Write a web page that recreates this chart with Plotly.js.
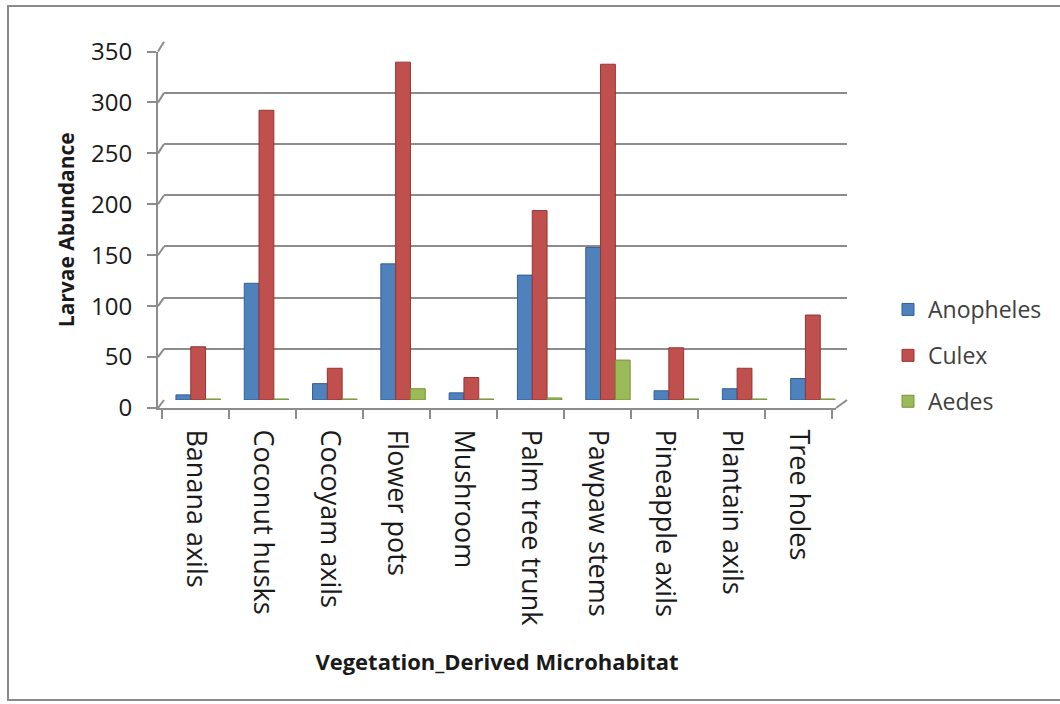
<!DOCTYPE html>
<html>
<head>
<meta charset="utf-8">
<script src="https://cdn.plot.ly/plotly-3.0.1.min.js"></script>
<style>html,body{margin:0;padding:0;background:#fff;}#chart{width:1060px;height:704px;}</style>
</head>
<body>
<div id="chart"></div>
<script>
const categories = ["Banana axils","Coconut husks","Cocoyam axils","Flower pots","Mushroom","Palm tree trunk","Pawpaw stems","Pineapple axils","Plantain axils","Tree holes"];
const anopheles = [5, 114, 16, 133, 7, 122, 149, 9, 11, 21];
const culex = [52, 283, 31, 330, 22, 185, 328, 51, 31, 83];
const aedes = [1, 1, 1, 11, 1, 2, 39, 1, 1, 1];
const seriesNames = ["Anopheles","Culex","Aedes"];
const yTicks = [0, 50, 100, 150, 200, 250, 300, 350];

const W = 1060, H = 704;
const fx = p => p / W;            // pixel -> paper x (margins are zero)
const fy = p => (H - p) / H;      // pixel -> paper y
const YMAX = 350;

// back wall (bars + gridlines) and front frame (axis lines, ticks, labels)
const back = {x0: 164, x1: 847, yTop: 41.7, yBot: 400};
const front = {x0: 158, x1: 836, yTop: 51.5, yBot: 408};

const colors = ["#4f81bd", "#c0504d", "#9bbb59"];
const lines = ["#30609c", "#963431", "#76923c"];
const data = [anopheles, culex, aedes].map((vals, i) => ({
  type: "bar",
  name: seriesNames[i],
  x: categories,
  y: vals,
  xaxis: "x", yaxis: "y",
  legendgroup: "g" + i,
  marker: {color: colors[i], line: {color: lines[i], width: 1}}
}));
// invisible helper so the front category axis has its categories
data.push({
  type: "scatter", mode: "markers", x: categories, y: anopheles,
  xaxis: "x2", yaxis: "y2", marker: {opacity: 0}, showlegend: false, hoverinfo: "skip"
});

const axisGray = "#8c8c8c";
const shapes = [
  {type: "rect", xref: "paper", yref: "paper",
   x0: fx(8), x1: fx(1064), y0: fy(700), y1: fy(6),
   line: {color: "#8a8a8a", width: 2}, fillcolor: "rgba(0,0,0,0)", layer: "below"},
  // right floor edge
  {type: "line", xref: "paper", yref: "paper",
   x0: fx(front.x1), y0: fy(front.yBot), x1: fx(back.x1), y1: fy(back.yBot),
   line: {color: axisGray, width: 2}}
];
// small diagonals joining front ticks to back gridlines
yTicks.forEach(v => {
  const yf = front.yBot - (front.yBot - front.yTop) * v / YMAX;
  const yb = back.yBot - (back.yBot - back.yTop) * v / YMAX;
  shapes.push({type: "line", xref: "paper", yref: "paper",
    x0: fx(front.x0), y0: fy(yf), x1: fx(back.x0), y1: fy(yb),
    line: {color: axisGray, width: 2}});
});

const layout = {
  width: W, height: H,
  margin: {l: 0, r: 0, t: 0, b: 0, autoexpand: false},
  paper_bgcolor: "#ffffff",
  plot_bgcolor: "rgba(0,0,0,0)",
  font: {family: "Open Sans, sans-serif", color: "#1a1a1a"},
  barmode: "group",
  bargap: 0.35,
  bargroupgap: 0,
  showlegend: true,
  legend: {
    xref: "paper", yref: "paper",
    x: fx(888), y: fy(288), xanchor: "left", yanchor: "top",
    font: {size: 23, color: "#404040", family: "Open Sans, sans-serif"},
    tracegroupgap: 13,
    itemclick: false
  },
  xaxis: {
    domain: [fx(back.x0), fx(back.x1)],
    anchor: "y",
    type: "category",
    showticklabels: false, ticks: "", showline: false, showgrid: false, zeroline: false
  },
  yaxis: {
    domain: [fy(back.yBot), fy(back.yTop)],
    anchor: "x",
    range: [0, YMAX],
    tickvals: yTicks,
    showticklabels: false, ticks: "", showline: false,
    showgrid: true, gridcolor: axisGray, gridwidth: 2,
    zeroline: false
  },
  xaxis2: {
    domain: [fx(front.x0), fx(front.x1)],
    anchor: "y2",
    type: "category",
    tickangle: 90,
    tickfont: {size: 27, color: "#1a1a1a"},
    ticks: "outside", tickson: "boundaries", ticklen: 9, tickcolor: axisGray, tickwidth: 2,
    ticklabelstandoff: 14,
    showline: true, linecolor: axisGray, linewidth: 2,
    showgrid: false, zeroline: false,
    title: {text: "Vegetation_Derived Microhabitat", font: {size: 22, color: "#1a1a1a", family: "Open Sans, sans-serif", weight: "bold"}, standoff: 30}
  },
  yaxis2: {
    domain: [fy(front.yBot), fy(front.yTop)],
    anchor: "x2",
    range: [0, YMAX],
    tickvals: yTicks,
    ticktext: yTicks.map(String),
    tickfont: {size: 24, color: "#1a1a1a"},
    ticks: "outside", ticklen: 9, tickcolor: axisGray, tickwidth: 2,
    ticklabelstandoff: 10,
    showline: true, linecolor: axisGray, linewidth: 2,
    showgrid: false, zeroline: false,
    title: {text: "Larvae Abundance", font: {size: 21, color: "#1a1a1a", family: "Open Sans, sans-serif", weight: "bold"}, standoff: 11}
  },
  shapes: shapes
};

Plotly.newPlot("chart", data, layout, {displayModeBar: false, staticPlot: true});
</script>
</body>
</html>
